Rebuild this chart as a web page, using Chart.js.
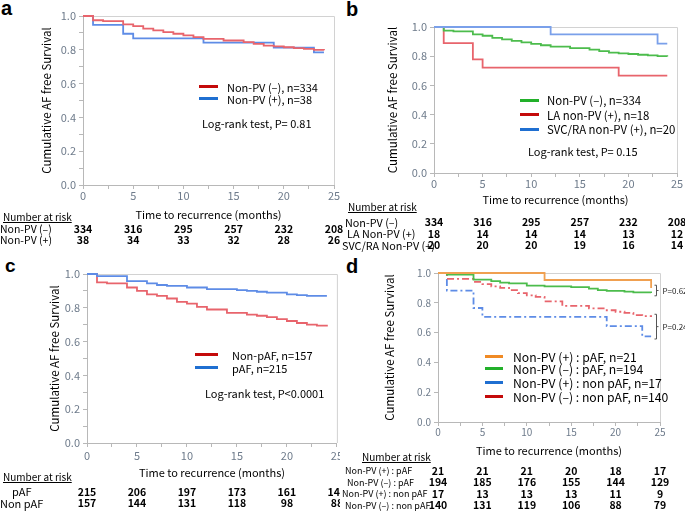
<!DOCTYPE html>
<html><head><meta charset="utf-8">
<script src="https://cdn.jsdelivr.net/npm/chart.js@4.4.1/dist/chart.umd.min.js"></script>
<style>
body{margin:0;background:#fff;}
#root{position:relative;width:685px;height:511px;overflow:hidden;font-family:"Noto Sans CJK JP","Noto Sans",sans-serif;color:#000;background:#fff;}
#clipC{position:absolute;left:0;top:0;width:340px;height:511px;overflow:hidden;}
.abs{position:absolute;white-space:nowrap;line-height:1;}
canvas{position:absolute;}
</style></head><body><div id="root"><div id="clipC"></div></div>
<script>
// ---------- DATA ----------
const riskTimes = [0, 5, 10, 15, 20, 25];

// Non-PV (-), n=334 (used in a and b)
const nonPvNegT = [1, 2, 4, 5, 6, 7, 8, 9, 10, 11, 12, 14, 16, 17, 18, 19, 20, 21, 22, 23, 24];
const nonPvNegS = [0.975, 0.97, 0.95, 0.94, 0.925, 0.915, 0.905, 0.895, 0.885, 0.875, 0.865, 0.855, 0.845, 0.835, 0.825, 0.82, 0.815, 0.81, 0.805, 0.80, 0.798];
// Non-PV (+), n=38
const nonPvPosT = [1, 4, 5, 12, 19, 23, 24];
const nonPvPosS = [0.947, 0.895, 0.868, 0.842, 0.813, 0.785, 0.785];
// LA non-PV (+), n=18
const laNonPvT = [1, 4, 5, 19, 24];
const laNonPvS = [0.889, 0.778, 0.722, 0.667, 0.667];
// SVC/RA non-PV (+), n=20
const svcNonPvT = [12, 23, 24];
const svcNonPvS = [0.95, 0.886, 0.886];
// Non-pAF, n=157
const nonPafT = [1, 2, 4, 5, 6, 7, 8, 9, 10, 11, 12, 14, 16, 17, 18, 19, 20, 21, 22, 23, 24];
const nonPafS = [0.95, 0.945, 0.92, 0.90, 0.88, 0.87, 0.855, 0.835, 0.825, 0.805, 0.79, 0.77, 0.76, 0.753, 0.745, 0.733, 0.722, 0.71, 0.70, 0.695, 0.69];
// pAF, n=215
const pafT = [1, 4, 6, 7, 8, 10, 12, 15, 16, 17, 18, 20, 21, 22, 24];
const pafS = [0.988, 0.958, 0.945, 0.935, 0.93, 0.92, 0.91, 0.905, 0.90, 0.895, 0.89, 0.88, 0.875, 0.87, 0.87];
// d: Non-PV (+) : pAF, n=21
const dPosPafT = [12, 24];
const dPosPafS = [0.953, 0.90];
// d: Non-PV (-) : pAF, n=194
const dNegPafT = [1, 4, 6, 7, 8, 10, 12, 15, 17, 18, 19, 21, 22, 24];
const dNegPafS = [0.99, 0.955, 0.945, 0.935, 0.93, 0.915, 0.91, 0.905, 0.895, 0.885, 0.88, 0.875, 0.87, 0.865];
// d: Non-PV (+) : non pAF, n=17
const dPosNonPafT = [1, 4, 5, 19, 23, 24];
const dPosNonPafS = [0.882, 0.765, 0.706, 0.643, 0.575, 0.575];
// d: Non-PV (-) : non pAF, n=140
const dNegNonPafT = [1, 4, 5, 6, 7, 8, 9, 10, 11, 12, 14, 17, 19, 20, 21, 22, 23, 24];
const dNegNonPafS = [0.96, 0.94, 0.925, 0.91, 0.90, 0.885, 0.865, 0.85, 0.84, 0.81, 0.78, 0.762, 0.75, 0.74, 0.733, 0.717, 0.71, 0.705];

// Number at risk
const riskANeg = [334, 316, 295, 257, 232, 208];
const riskAPos = [38, 34, 33, 32, 28, 26];
const riskBNeg = [334, 316, 295, 257, 232, 208];
const riskBLa = [18, 14, 14, 14, 13, 12];
const riskBSvc = [20, 20, 20, 19, 16, 14];
const riskCPaf = [215, 206, 197, 173, 161, 146];
const riskCNonPaf = [157, 144, 131, 118, 98, 88];
const riskDPosPaf = [21, 21, 21, 20, 18, 17];
const riskDNegPaf = [194, 185, 176, 155, 144, 129];
const riskDPosNonPaf = [17, 13, 13, 13, 11, 9];
const riskDNegNonPaf = [140, 131, 119, 106, 88, 79];

// Labels
const legendA = ['Non-PV (\u2013), n=334', 'Non-PV (+), n=38'];
const legendB = ['Non-PV (\u2013), n=334', 'LA non-PV (+), n=18', 'SVC/RA non-PV (+), n=20'];
const legendC = ['Non-pAF, n=157', 'pAF, n=215'];
const legendD = ['Non-PV (+) : pAF, n=21', 'Non-PV (\u2013) : pAF, n=194', 'Non-PV (+) : non pAF, n=17', 'Non-PV (\u2013) : non pAF, n=140'];
const rowsA = ['Non-PV (\u2013)', 'Non-PV (+)'];
const rowsB = ['Non-PV (\u2013)', 'LA Non-PV (+)', 'SVC/RA Non-PV (+)'];
const rowsC = ['pAF', 'Non pAF'];
const rowsD = ['Non-PV (+) : pAF', 'Non-PV (\u2013) : pAF', 'Non-PV (+) : non pAF', 'Non-PV (\u2013) : non pAF'];
const pTexts = ['Log-rank test, P= 0.81', 'Log-rank test, P= 0.15', 'Log-rank test, P<0.0001'];
const pBrackets = ['P=0.62', 'P=0.24'];

// ---------- RENDER ----------
const FONT = '"Noto Sans CJK JP", "Noto Sans", sans-serif';
const TICKC = '#6e7b8b';
const AXC = '#b8b8b8';
const root = document.getElementById('root');
const clipC = document.getElementById('clipC');

function km(t, s) {
  const pts = [{x: 0, y: 1}];
  for (let i = 0; i < t.length; i++) pts.push({x: t[i], y: s[i]});
  return pts;
}

const framePlugin = {
  id: 'frame',
  beforeDatasetsDraw(chart) {
    const {ctx, chartArea: a} = chart;
    ctx.save();
    ctx.strokeStyle = '#d2d2d2';
    ctx.lineWidth = 1;
    ctx.beginPath();
    ctx.moveTo(a.left, a.top + 0.5);
    ctx.lineTo(a.right + 0.5, a.top + 0.5);
    ctx.lineTo(a.right + 0.5, a.bottom);
    ctx.stroke();
    ctx.restore();
  }
};

function makeChart(cfg) {
  const cv = document.createElement('canvas');
  cv.width = cfg.w; cv.height = cfg.h;
  cv.style.left = cfg.left + 'px'; cv.style.top = cfg.top + 'px';
  cv.style.width = cfg.w + 'px'; cv.style.height = cfg.h + 'px';
  cfg.parent.appendChild(cv);
  return new Chart(cv.getContext('2d'), {
    type: 'line',
    data: {datasets: cfg.datasets.map(d => ({
      data: d.data, borderColor: d.color, borderWidth: d.width || 1.8,
      borderDash: d.dash || [], stepped: true, pointRadius: 0, fill: false, clip: 4, tension: 0
    }))},
    options: {
      responsive: false, animation: false, devicePixelRatio: 1,
      layout: {padding: {top: cfg.padTop, right: cfg.padRight, left: 0, bottom: 0}},
      plugins: {legend: {display: false}, tooltip: {enabled: false}},
      scales: {
        x: {
          type: 'linear', min: 0, max: 25,
          afterFit: s => { s.height = cfg.xH; },
          ticks: {stepSize: 2.5, autoSkip: false, maxRotation: 0, padding: cfg.xPad,
            font: {family: FONT, size: cfg.tick}, color: TICKC,
            callback: v => (Math.abs(v % 5) < 1e-9 ? String(v) : '')},
          grid: {drawOnChartArea: false, tickLength: 4, color: AXC},
          border: {color: AXC},
          title: {display: true, text: 'Time to recurrence (months)', font: {family: FONT, size: 11}, color: '#000', padding: 0}
        },
        y: {
          min: 0, max: 1,
          afterFit: s => { s.width = cfg.yW; },
          ticks: {stepSize: 0.1, padding: 3, font: {family: FONT, size: cfg.tick}, color: TICKC,
            callback: v => { const r = Math.round(v * 10); return r % 2 === 0 ? (r / 10).toFixed(1) : ''; }},
          grid: {drawOnChartArea: false, tickLength: 4, color: AXC},
          border: {color: AXC},
          title: {display: true, text: 'Cumulative AF free Survival', font: {family: FONT, size: 11.5}, color: '#000', padding: 0}
        }
      }
    },
    plugins: [framePlugin].concat(cfg.extra || [])
  });
}

function txt(parent, s, x, y, o) {
  o = o || {};
  const d = document.createElement('div');
  d.className = 'abs';
  d.textContent = s;
  d.style.left = x + 'px'; d.style.top = y + 'px';
  d.style.fontSize = (o.size || 12) + 'px';
  if (o.bold) d.style.fontWeight = 'bold';
  if (o.family) d.style.fontFamily = o.family;
  if (o.u) d.style.textDecoration = 'underline';
  d.style.transform = (o.cx ? 'translateX(-50%) ' : '') + 'translateY(-50%)';
  parent.appendChild(d);
  return d;
}
function sample(parent, x, y, w, color) {
  const d = document.createElement('div');
  d.style.position = 'absolute';
  d.style.left = x + 'px'; d.style.top = (y - 1.5) + 'px';
  d.style.width = w + 'px'; d.style.height = '3px';
  d.style.background = color;
  parent.appendChild(d);
}
function legend(parent, labels, colors, sx, sw, ys, tx, size) {
  labels.forEach((l, i) => {
    sample(parent, sx, ys[i], sw, colors[i]);
    txt(parent, l, tx, ys[i] + 1, {size: size});
  });
}
function riskTable(parent, chart, canvasLeft, rows, labels, labelX, ys, opts) {
  rows.forEach((row, r) => {
    txt(parent, labels[r], labelX[r], ys[r], {size: opts.labelSize});
    row.forEach((v, i) => {
      const x = canvasLeft + chart.scales.x.getPixelForValue(riskTimes[i]);
      txt(parent, String(v), x, ys[r] + 0.5, {size: opts.numSize, bold: true, cx: true});
    });
  });
}

const RED = '#e8646c', BLUE = '#5e8ce6', GREEN = '#4cbc4c', ORANGE = '#f0a050';
const RED_L = '#c40a0a', BLUE_L = '#1f6fd1', GREEN_L = '#22b02a', ORANGE_L = '#f08a24';

// Panel a
const chA = makeChart({parent: root, left: 40, top: 6, w: 302, h: 215, padTop: 10, padRight: 8, yW: 43, xH: 36, xPad: 0, tick: 11,
  datasets: [
    {data: km(nonPvNegT, nonPvNegS), color: RED},
    {data: km(nonPvPosT, nonPvPosS), color: BLUE}
  ]});
// Panel b
const chB = makeChart({parent: root, left: 386, top: 17, w: 299, h: 189, padTop: 10, padRight: 8, yW: 48, xH: 33, xPad: 0, tick: 11,
  datasets: [
    {data: km(svcNonPvT, svcNonPvS), color: '#7aa0ea'},
    {data: km(nonPvNegT, nonPvNegS), color: GREEN},
    {data: km(laNonPvT, laNonPvS), color: RED}
  ]});
// Panel c
const chC = makeChart({parent: clipC, left: 48, top: 264, w: 297, h: 215, padTop: 10, padRight: 8, yW: 39, xH: 36, xPad: 2, tick: 11,
  datasets: [
    {data: km(pafT, pafS), color: BLUE},
    {data: km(nonPafT, nonPafS), color: RED}
  ]});
// Panel d with bracket annotations computed from the series end values
const endVal = s => s[s.length - 1];
const bracketPlugin = {
  id: 'brackets',
  afterDraw(chart) {
    const {ctx} = chart;
    const xs = chart.scales.x, ys = chart.scales.y;
    const pairs = [[endVal(dPosPafS), endVal(dNegPafS)], [endVal(dNegNonPafS), endVal(dPosNonPafS)]];
    ctx.save();
    ctx.strokeStyle = '#555'; ctx.lineWidth = 1;
    ctx.fillStyle = '#222';
    ctx.font = '8px ' + FONT;
    ctx.textBaseline = 'middle';
    pairs.forEach((p, i) => {
      const x = Math.round(xs.getPixelForValue(24.6)) + 0.5;
      const y1 = ys.getPixelForValue(p[0] + 0.018);
      const y2 = ys.getPixelForValue(p[1] - 0.018);
      const ym = (y1 + y2) / 2;
      ctx.beginPath();
      ctx.moveTo(x - 2, y1); ctx.lineTo(x, y1); ctx.lineTo(x, y2); ctx.lineTo(x - 2, y2);
      ctx.moveTo(x, ym); ctx.lineTo(x + 2, ym);
      ctx.stroke();
      ctx.fillText(pBrackets[i], x + 6, ym);
    });
    ctx.restore();
  }
};
const chD = makeChart({parent: root, left: 383, top: 263, w: 302, h: 194, padTop: 10, padRight: 25, yW: 55, xH: 35, xPad: 0, tick: 10,
  extra: [bracketPlugin],
  datasets: [
    {data: km(dPosPafT, dPosPafS), color: ORANGE},
    {data: km(dNegPafT, dNegPafS), color: GREEN},
    {data: km(dNegNonPafT, dNegNonPafS), color: RED, dash: [7, 3, 2, 3]},
    {data: km(dPosNonPafT, dPosNonPafS), color: BLUE, dash: [7, 3, 2, 3]}
  ]});

// Panel letters
const LF = '"Liberation Sans", Arial, sans-serif';
function letter(parent, s, x, top, size) {
  const d = document.createElement('div');
  d.className = 'abs';
  d.textContent = s; d.style.left = x + 'px'; d.style.top = top + 'px';
  d.style.fontFamily = LF; d.style.fontWeight = 'bold'; d.style.fontSize = size + 'px';
  parent.appendChild(d);
}
letter(root, 'a', 1, -2, 20);
letter(root, 'b', 346, -1, 20);
letter(clipC, 'c', 5, 256, 19);
letter(root, 'd', 346, 256, 20);

// Legends + log-rank
legend(root, legendA, [RED_L, BLUE_L], 199, 19, [86, 98], 227, 11);
txt(root, pTexts[0], 202, 123, {size: 11});
legend(root, legendB, [GREEN_L, RED_L, BLUE_L], 520, 19, [100, 114.5, 129], 547, 11.4);
txt(root, pTexts[1], 528, 151, {size: 11});
legend(clipC, legendC, [RED_L, BLUE_L], 195, 23, [354, 367], 232, 11);
txt(clipC, pTexts[2], 205, 393, {size: 11});
legend(root, legendD, [ORANGE_L, GREEN_L, BLUE_L, RED_L], 485, 18, [356, 368, 382, 396], 513, 12.2);

// Number at risk tables
txt(root, 'Number at risk', 3, 217, {size: 10, u: true});
riskTable(root, chA, 40, [riskANeg, riskAPos], rowsA, [0, 0], [228.5, 239.5], {labelSize: 10.5, numSize: 10.5});
txt(root, 'Number at risk', 348, 207, {size: 10, u: true});
riskTable(root, chB, 386, [riskBNeg, riskBLa, riskBSvc], rowsB, [345, 347, 342], [221.5, 233, 244.5], {labelSize: 10.8, numSize: 10.5});
txt(clipC, 'Number at risk', 3, 477, {size: 10, u: true});
riskTable(clipC, chC, 48, [riskCPaf, riskCNonPaf], rowsC, [12, 0], [491, 502.5], {labelSize: 11, numSize: 10.5});
txt(root, 'Number at risk', 362, 457, {size: 10, u: true});
riskTable(root, chD, 383, [riskDPosPaf, riskDNegPaf, riskDPosNonPaf, riskDNegNonPaf], rowsD, [345, 347, 342, 345], [470, 481.5, 493, 504.5], {labelSize: 9, numSize: 10.5});
</script></body></html>
